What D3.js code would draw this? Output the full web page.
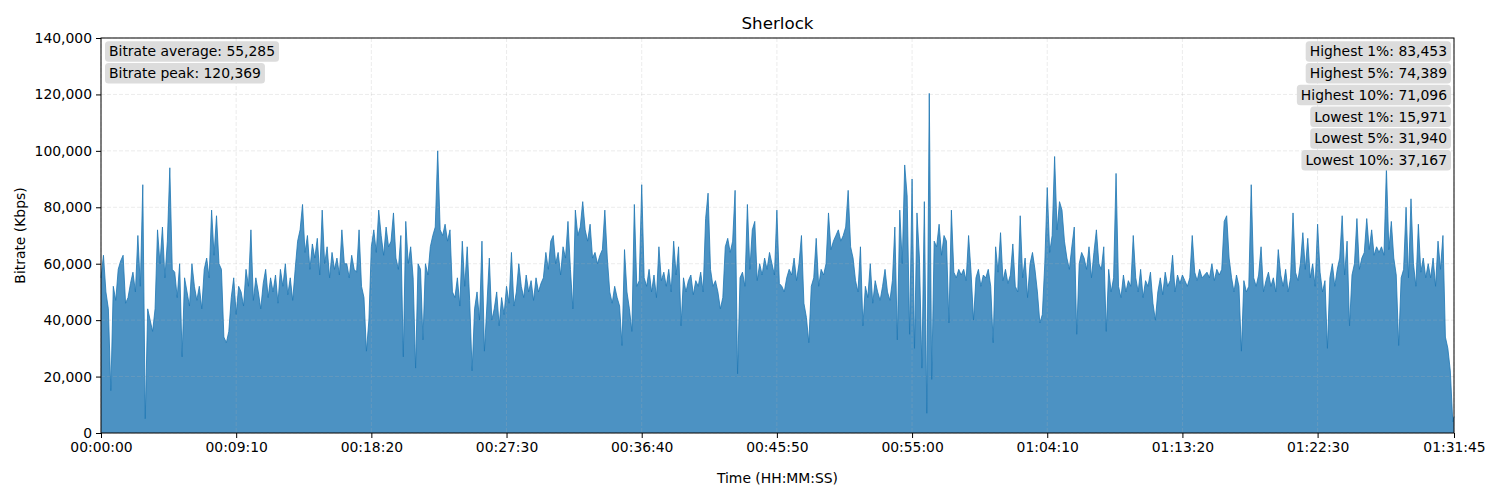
<!DOCTYPE html>
<html>
<head>
<meta charset="utf-8">
<script src="https://cdn.jsdelivr.net/npm/d3@7"></script>
<style>
    body { margin: 0; background: #fff; }
    svg text { font-family: "DejaVu Sans", sans-serif; }
</style>
</head>
<body>
<svg id="chart"></svg>
<script>
// bitrate in thousands of Kbps, one sample every 10 s, last sample at the end of the file
const sampleStep = 10;
const durationSec = 5505;
const bitrateK = [
    55,63,50,44,15,52,47,58,61,63,
    46,48,53,57,50,70,52,88,5,44,
    40,36,44,72,60,73,55,68,94,58,
    57,48,60,27,55,50,45,60,52,47,
    52,44,58,62,55,79,63,77,60,58,
    34,32,36,48,55,42,52,50,45,58,
    52,72,47,55,50,44,53,58,48,55,
    50,56,46,58,52,60,49,55,47,58,
    68,72,81,64,70,58,67,62,69,56,
    79,60,66,55,64,58,62,56,72,60,
    60,55,63,58,57,72,52,48,29,40,
    66,72,64,79,70,63,73,66,68,78,
    62,58,70,27,75,60,66,55,23,60,
    58,33,60,56,66,70,73,100,72,70,
    74,68,72,50,48,55,45,68,52,66,
    47,22,44,50,40,68,29,45,62,40,
    44,50,38,48,42,52,46,64,45,50,
    60,52,48,56,50,54,47,55,50,53,
    55,64,58,68,70,60,64,56,66,62,
    75,58,44,79,70,73,82,72,68,74,
    62,64,60,63,65,79,62,50,46,52,
    48,45,31,65,50,44,36,81,52,54,
    88,55,52,58,50,56,48,66,54,57,
    52,58,50,68,56,66,38,55,50,54,
    56,49,54,52,57,50,76,85,58,52,
    54,50,44,48,66,69,64,68,86,21,
    55,57,52,81,58,72,75,54,60,56,
    62,58,64,60,56,79,53,52,50,55,
    58,56,62,54,60,70,46,41,32,52,
    55,69,52,58,56,60,78,65,68,70,
    72,68,70,73,86,66,62,54,50,66,
    38,52,48,60,46,54,50,47,52,58,
    50,47,54,73,33,79,60,95,84,35,
    90,30,78,62,23,82,7,120.369,19,68,
    66,74,63,70,68,39,79,57,55,58,
    56,58,54,70,57,40,55,58,52,56,
    55,58,52,32,66,57,71,54,58,53,
    56,67,52,50,77,55,62,48,60,64,
    58,50,39,42,60,87,64,70,98,72,
    82,79,68,62,58,66,73,35,60,64,
    62,58,66,55,64,72,60,58,66,36,
    58,50,55,92,52,48,56,50,54,52,
    70,55,50,58,48,54,52,57,46,40,
    50,55,49,57,52,54,63,50,56,53,
    56,54,52,55,70,57,54,58,55,56,
    57,55,60,54,58,56,58,75,77,62,
    55,50,56,52,29,54,50,52,88,55,
    52,56,66,50,54,57,52,55,50,65,
    56,52,58,50,55,78,57,54,60,71,
    58,69,55,60,52,74,57,50,54,30,
    55,60,52,58,62,77,56,68,38,56,
    60,76,58,62,64,76,65,72,63,66,
    64,66,63,94,65,75,62,56,31,55,
    58,80,55,83,60,52,74,57,62,55,
    60,55,62,52,68,58,70,34,30,22,
    4,5.8
];

const xTicks = [0, 550, 1100, 1650, 2200, 2750, 3300, 3850, 4400, 4950, 5505];
const yTicks = [0, 20000, 40000, 60000, 80000, 100000, 120000, 140000];

const leftNames = ["Bitrate average", "Bitrate peak"];
const leftValues = [55285, 120369];
const rightNames = ["Highest 1%", "Highest 5%", "Highest 10%", "Lowest 1%", "Lowest 5%", "Lowest 10%"];
const rightValues = [83453, 74389, 71096, 15971, 31940, 37167];

class BitrateChart {
    margin = {
        top: 38, right: 46, bottom: 67, left: 101
    }

    constructor(svg, width = 1500, height = 500) {
        this.svg = svg;
        this.fullWidth = width;
        this.fullHeight = height;
        this.width = width - this.margin.left - this.margin.right;
        this.height = height - this.margin.top - this.margin.bottom;
    }

    initialize() {
        this.svg = d3.select(this.svg)
            .attr("width", this.fullWidth)
            .attr("height", this.fullHeight);

        this.container = this.svg.append("g")
            .attr("transform", `translate(${this.margin.left}, ${this.margin.top})`);

        this.xScale = d3.scaleLinear().domain([0, durationSec]).range([0, this.width]);
        this.yScale = d3.scaleLinear().domain([0, 140000]).range([this.height, 0]);
    }

    hms(sec) {
        const pad = n => String(n).padStart(2, "0");
        return `${pad(Math.floor(sec / 3600))}:${pad(Math.floor(sec % 3600 / 60))}:${pad(sec % 60)}`;
    }

    render() {
        const data = bitrateK.map((v, i) => ({
            t: Math.min(i * sampleStep, durationSec),
            value: v * 1000
        }));

        const area = d3.area()
            .x(d => this.xScale(d.t))
            .y0(this.yScale(0))
            .y1(d => this.yScale(d.value));

        const line = d3.line()
            .x(d => this.xScale(d.t))
            .y(d => this.yScale(d.value));

        this.container.append("path")
            .datum(data)
            .attr("fill", "#4c92c3")
            .attr("d", area);

        // grid sits over the fill like matplotlib does
        const grid = this.container.append("g")
            .attr("stroke", "#b0b0b0")
            .attr("stroke-opacity", 0.3)
            .attr("stroke-width", 0.8)
            .attr("stroke-dasharray", "4,2");
        grid.selectAll(".gx")
            .data(xTicks)
            .enter().append("line")
            .attr("x1", d => this.xScale(d)).attr("x2", d => this.xScale(d))
            .attr("y1", 0).attr("y2", this.height);
        grid.selectAll(".gy")
            .data(yTicks)
            .enter().append("line")
            .attr("y1", d => this.yScale(d)).attr("y2", d => this.yScale(d))
            .attr("x1", 0).attr("x2", this.width);

        this.container.append("path")
            .datum(data)
            .attr("fill", "none")
            .attr("stroke", "#1f77b4")
            .attr("stroke-width", 0.8)
            .attr("stroke-linejoin", "round")
            .attr("d", line);

        const xAxis = this.container.append("g")
            .attr("transform", `translate(0, ${this.height})`)
            .call(d3.axisBottom(this.xScale)
                .tickValues(xTicks)
                .tickFormat(d => this.hms(d))
                .tickSize(5).tickPadding(4).tickSizeOuter(0));

        const yAxis = this.container.append("g")
            .call(d3.axisLeft(this.yScale)
                .tickValues(yTicks)
                .tickFormat(d3.format(","))
                .tickSize(5).tickPadding(4).tickSizeOuter(0));

        [xAxis, yAxis].forEach(a => {
            a.attr("font-size", 13.9).attr("font-family", "DejaVu Sans, sans-serif");
            a.select(".domain").remove();
            a.selectAll(".tick line").attr("stroke", "#000").attr("stroke-width", 1);
            a.selectAll(".tick text").attr("fill", "#000");
        });

        this.container.append("rect")
            .attr("width", this.width)
            .attr("height", this.height)
            .attr("fill", "none")
            .attr("stroke", "#000")
            .attr("stroke-width", 1);

        this.svg.append("text")
            .attr("x", this.margin.left + this.width / 2)
            .attr("y", 29)
            .attr("text-anchor", "middle")
            .attr("font-size", 16.7)
            .text("Sherlock");

        this.svg.append("text")
            .attr("x", this.margin.left + this.width / 2)
            .attr("y", 483)
            .attr("text-anchor", "middle")
            .attr("font-size", 13.9)
            .text("Time (HH:MM:SS)");

        this.svg.append("text")
            .attr("transform", `translate(25, ${this.margin.top + this.height / 2}) rotate(-90)`)
            .attr("text-anchor", "middle")
            .attr("font-size", 13.9)
            .text("Bitrate (Kbps)");

        const fmt = d3.format(",");
        this.statBoxes(leftNames.map((n, i) => `${n}: ${fmt(leftValues[i])}`), 8, "start");
        this.statBoxes(rightNames.map((n, i) => `${n}: ${fmt(rightValues[i])}`), this.width - 7, "end");
    }

    statBoxes(lines, x, anchor) {
        const g = this.container.append("g");
        lines.forEach((txt, i) => {
            const row = g.append("g");
            const t = row.append("text")
                .attr("x", x)
                .attr("y", 13.5 + i * 21.75)
                .attr("dy", "0.35em")
                .attr("text-anchor", anchor)
                .attr("font-size", 13.9)
                .attr("fill", "#000")
                .text(txt);
            const b = t.node().getBBox();
            row.insert("rect", "text")
                .attr("x", b.x - 4)
                .attr("y", 13.5 + i * 21.75 - 10.3)
                .attr("width", b.width + 8)
                .attr("height", 20.6)
                .attr("rx", 3.5)
                .attr("fill", "#dcdcdc");
        });
    }
}

const chart = new BitrateChart(document.getElementById("chart"));
chart.initialize();
chart.render();
</script>
</body>
</html>
